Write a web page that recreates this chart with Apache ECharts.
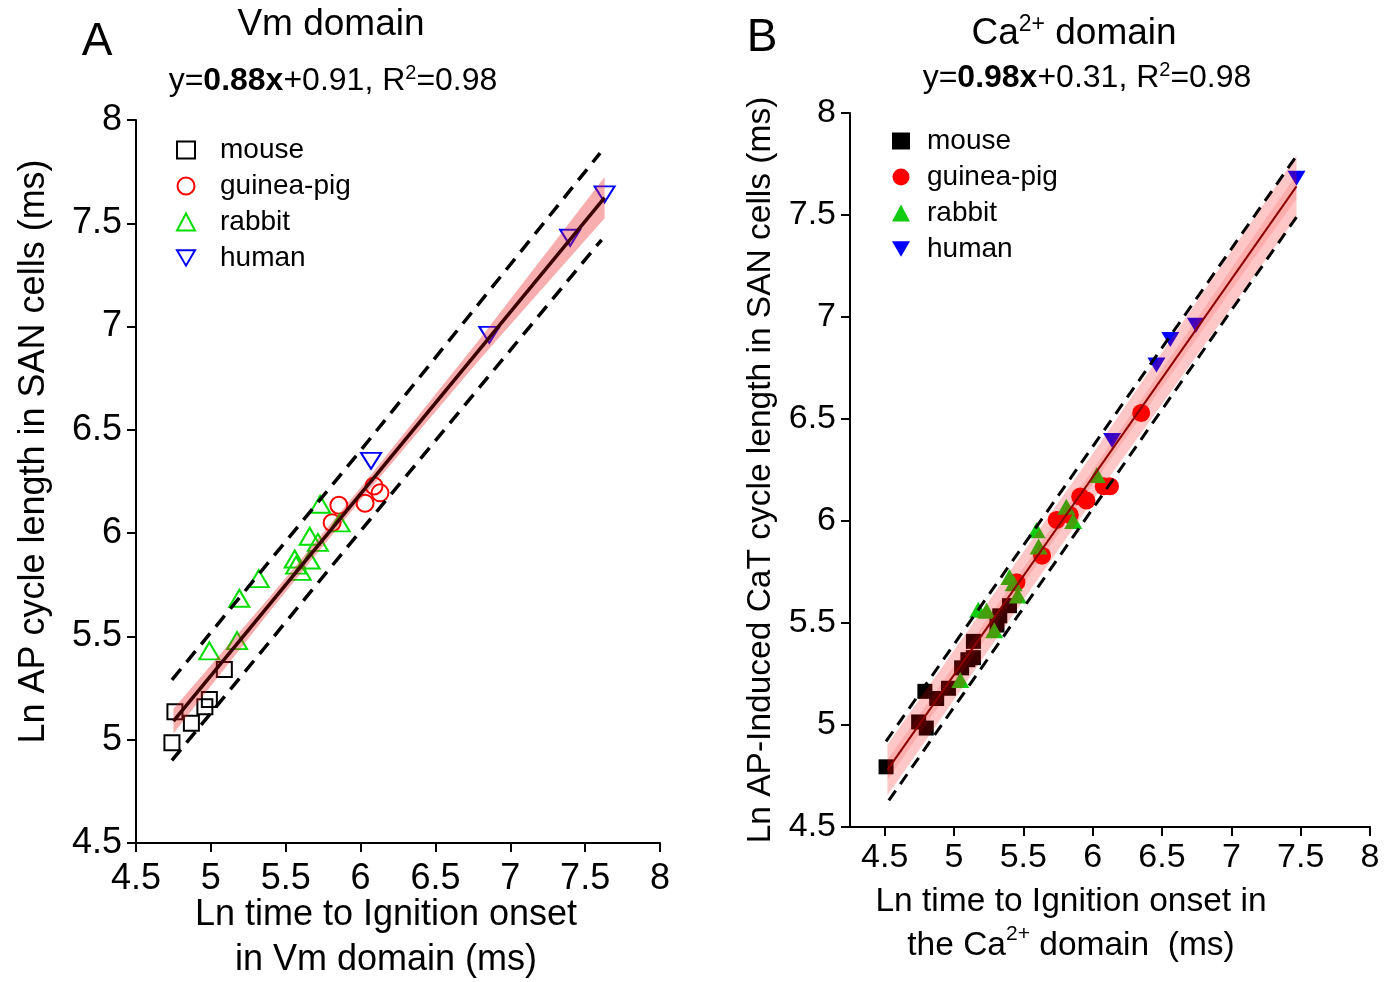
<!DOCTYPE html>
<html><head><meta charset="utf-8">
<script src="https://cdn.jsdelivr.net/npm/echarts@6/dist/echarts.min.js"></script>
<style>html,body{margin:0;padding:0;background:#fff}#c{width:1385px;height:982px}</style>
</head><body><div id="c"></div>
<script>
const FONT = '"Liberation Sans", Arial, Helvetica, sans-serif';

// ---------- tick labels ----------
const ticks = [4.5, 5, 5.5, 6, 6.5, 7, 7.5, 8];
const speciesNames = ['mouse', 'guinea-pig', 'rabbit', 'human'];

// ---------- Panel A (Vm domain) ----------
const aMouse  = [[4.74,4.985],[4.76,5.135],[4.87,5.08],[4.96,5.16],[4.99,5.195],[5.09,5.34]];
const aGuinea = [[5.81,6.05],[5.855,6.135],[6.03,6.145],[6.09,6.228],[6.13,6.195]];
const aRabbit = [[4.99,5.43],[5.175,5.48],[5.19,5.685],[5.32,5.78],[5.56,5.875],[5.57,5.845],
                 [5.60,5.815],[5.66,5.87],[5.66,5.985],[5.715,5.955],[5.73,6.14],[5.86,6.05]];
const aHuman  = [[6.07,6.35],[6.86,6.96],[7.40,7.43],[7.63,7.64]];
const aFit       = [[4.75,5.09],[7.63,7.624]];
const aBandX     = [4.75, 5.4, 6.0, 6.8, 7.63];
const aBandLo    = [5.03, 5.627, 6.16, 6.844, 7.524];
const aBandHi    = [5.15, 5.697, 6.22, 6.944, 7.724];
const aPredUpper = [[4.74,5.29],[6.0,6.40],[7.60,7.84]];
const aPredLower = [[4.74,4.90],[6.0,6.01],[7.61,7.42]];

// ---------- Panel B (Ca2+ domain) ----------
const bMouse  = [[4.51,4.795],[4.745,5.015],[4.80,4.985],[4.79,5.165],[4.875,5.13],[4.96,5.18],
                 [5.055,5.28],[5.10,5.32],[5.14,5.33],[5.14,5.41],[5.31,5.49],[5.33,5.535],[5.40,5.585]];
const bGuinea = [[5.45,5.70],[5.635,5.83],[5.74,6.005],[5.835,6.03],[5.91,6.12],[5.955,6.10],
                 [6.08,6.17],[6.125,6.17],[6.35,6.53]];
const bRabbit = [[5.045,5.22],[5.175,5.565],[5.235,5.56],[5.29,5.465],[5.40,5.725],[5.43,5.695],
                 [5.46,5.635],[5.595,5.955],[5.61,5.875],[5.81,6.07],[5.86,6.0],[6.03,6.225]];
const bHuman  = [[6.14,6.395],[6.46,6.765],[6.56,6.89],[6.745,6.96],[7.47,7.68]];
const bFit       = [[4.52,4.78],[7.47,7.64]];
const bBandX     = [4.52, 6.0, 7.47];
const bOuterLo   = [4.655, 6.10, 7.49];
const bOuterHi   = [4.905, 6.33, 7.79];
const bInnerLo   = [4.73, 6.18, 7.58];
const bInnerHi   = [4.83, 6.25, 7.70];
const bPredUpper = [[4.51,4.92],[7.47,7.79]];
const bPredLower = [[4.53,4.63],[7.47,7.49]];

// ---------- helpers ----------
const DOWN_TRI = 'path://M0,0L20,0L10,17Z';
function scatter(name, g, data, symbol, size, color, filled, rotate) {
  return {
    type: 'scatter', name, xAxisIndex: g, yAxisIndex: g, data, symbol,
    symbolSize: size, symbolRotate: rotate || 0, z: 2,
    itemStyle: filled ? { color: color, opacity: 1 }
                      : { color: 'rgba(0,0,0,0)', borderColor: color, borderWidth: 2, opacity: 1 }
  };
}
function band(g, xs, lo, hi, fill, z) {
  return {
    type: 'custom', xAxisIndex: g, yAxisIndex: g, z, silent: true,
    data: xs.map((x, i) => [x, lo[i], hi[i]]),
    renderItem: function (params, api) {
      if (params.dataIndex !== 0) return null;
      const pts = [];
      for (let i = 0; i < xs.length; i++) pts.push(api.coord([xs[i], hi[i]]));
      for (let i = xs.length - 1; i >= 0; i--) pts.push(api.coord([xs[i], lo[i]]));
      return { type: 'polygon', shape: { points: pts }, style: { fill: fill } };
    }
  };
}
function line(g, data, color, width, dash, z) {
  return {
    type: 'line', xAxisIndex: g, yAxisIndex: g, data, showSymbol: false, symbol: 'none', z, silent: true,
    lineStyle: { color, width, type: dash || 'solid', cap: 'butt' }
  };
}
function axisCommon(fs) {
  return {
    axisLine: { show: true, onZero: false, lineStyle: { color: '#000', width: 2 } },
    axisTick: { show: true, inside: false, length: 9, lineStyle: { color: '#000', width: 2 } },
    axisLabel: { show: true, color: '#000', fontSize: fs, fontFamily: FONT, margin: 10 },
    splitLine: { show: false },
    nameTextStyle: { color: '#000', fontSize: fs, fontFamily: FONT }
  };
}

const chart = echarts.init(document.getElementById('c'), null, { renderer: 'canvas' });

const xA = Object.assign(axisCommon(36), {
  type: 'value', gridIndex: 0, min: 4.5, max: 8, interval: 0.5,
  name: 'Ln time to Ignition onset\nin Vm domain (ms)', nameLocation: 'middle', nameGap: 50,
  nameMoveOverlap: false
});
xA.nameTextStyle = Object.assign({}, xA.nameTextStyle, { lineHeight: 45, padding: [0, 24, 0, 0] });
xA.axisLabel.margin = 18;

const yA = Object.assign(axisCommon(36), {
  type: 'value', gridIndex: 0, min: 4.5, max: 8, interval: 0.5,
  name: 'Ln AP cycle length in SAN cells (ms)', nameLocation: 'middle', nameGap: 84
});
yA.nameTextStyle = Object.assign({}, yA.nameTextStyle, { padding: [0, 0, 0, 60] });
yA.axisLabel.margin = 14;

const xB = Object.assign(axisCommon(34), {
  type: 'value', gridIndex: 1, min: 4.25, max: 8,
  name: 'Ln time to Ignition onset in\nthe Ca{sup|2+} domain  (ms)', nameLocation: 'middle', nameGap: 52
});
xB.axisTick.customValues = ticks;
xB.axisLabel.customValues = ticks;
xB.axisLabel.margin = 14;
xB.nameTextStyle = Object.assign({}, xB.nameTextStyle, {
  fontSize: 33.5, lineHeight: 44, padding: [0, 78, 0, 0],
  rich: { sup: { fontSize: 21, fontFamily: FONT, color: '#000', verticalAlign: 'top', lineHeight: 30 } }
});

const yB = Object.assign(axisCommon(34), {
  type: 'value', gridIndex: 1, min: 4.5, max: 8, interval: 0.5,
  name: 'Ln AP-Induced CaT cycle length in SAN cells (ms)', nameLocation: 'middle', nameGap: 72
});
yB.nameTextStyle.fontSize = 33.5;
yB.axisLabel.margin = 14;

const legendCommon = {
  orient: 'vertical', itemGap: 8, itemWidth: 18, itemHeight: 17, selectedMode: false,
  textStyle: { fontSize: 28, fontFamily: FONT, color: '#000', lineHeight: 28 }
};

const RED = '#ff0000', GREEN = '#00dd00', BLUE = '#0000ff';

const option = {
  animation: false,
  backgroundColor: '#fff',
  grid: [
    { left: 136, top: 120, width: 524, height: 723, outerBoundsMode: 'none' },
    { left: 850, top: 113, width: 520, height: 714, outerBoundsMode: 'none' }
  ],
  xAxis: [xA, xB],
  yAxis: [yA, yB],
  legend: [
    Object.assign({}, legendCommon, {
      data: speciesNames.map(n => n === 'human' ? { name: n, icon: DOWN_TRI } : n), left: 171, top: 131,
      textStyle: Object.assign({}, legendCommon.textStyle, { padding: [0, 0, 0, 20] })
    }),
    Object.assign({}, legendCommon, {
      data: speciesNames.map(n => n === 'human' ? { name: 'B ' + n, icon: DOWN_TRI } : 'B ' + n),
      formatter: n => n.slice(2), left: 887, top: 122,
      textStyle: Object.assign({}, legendCommon.textStyle, { padding: [0, 0, 0, 12] })
    })
  ],
  graphic: [
    { type: 'text', x: 97, y: 42, style: { text: 'A', font: '46px ' + FONT, fill: '#000', align: 'center', verticalAlign: 'middle' } },
    { type: 'text', x: 331, y: 25, style: { text: 'Vm domain', font: '37px ' + FONT, fill: '#000', align: 'center', verticalAlign: 'middle' } },
    { type: 'text', x: 333, y: 81, style: {
        text: '{n|y=}{b|0.88x}{n|+0.91, R}{s|2}{n|=0.98}', align: 'center', verticalAlign: 'middle',
        rich: {
          n: { fontSize: 32, fontFamily: FONT, fill: '#000', lineHeight: 36 },
          b: { fontSize: 32, fontFamily: FONT, fontWeight: 'bold', fill: '#000', lineHeight: 36 },
          s: { fontSize: 20, fontFamily: FONT, fill: '#000', verticalAlign: 'top', lineHeight: 22 }
        } } },
    { type: 'text', x: 762, y: 38, style: { text: 'B', font: '46px ' + FONT, fill: '#000', align: 'center', verticalAlign: 'middle' } },
    { type: 'text', x: 1074, y: 34, style: {
        text: '{n|Ca}{s|2+}{n| domain}', align: 'center', verticalAlign: 'middle',
        rich: {
          n: { fontSize: 37, fontFamily: FONT, fill: '#000', lineHeight: 42 },
          s: { fontSize: 23, fontFamily: FONT, fill: '#000', verticalAlign: 'top', lineHeight: 26 }
        } } },
    { type: 'text', x: 1087, y: 78, style: {
        text: '{n|y=}{b|0.98x}{n|+0.31, R}{s|2}{n|=0.98}', align: 'center', verticalAlign: 'middle',
        rich: {
          n: { fontSize: 32, fontFamily: FONT, fill: '#000', lineHeight: 36 },
          b: { fontSize: 32, fontFamily: FONT, fontWeight: 'bold', fill: '#000', lineHeight: 36 },
          s: { fontSize: 20, fontFamily: FONT, fill: '#000', verticalAlign: 'top', lineHeight: 22 }
        } } }
  ],
  series: [
    // Panel A
    scatter('mouse', 0, aMouse, 'rect', 15, '#000', false),
    scatter('guinea-pig', 0, aGuinea, 'circle', 17, RED, false),
    scatter('rabbit', 0, aRabbit, 'triangle', [20, 17], GREEN, false),
    scatter('human', 0, aHuman, 'triangle', [20, 16], BLUE, false, 180),
    band(0, aBandX, aBandLo, aBandHi, 'rgba(235,30,30,0.36)', 3),
    line(0, aFit, '#3a0000', 3.5, null, 4),
    line(0, aPredUpper, '#000', 3.5, [14, 9], 4),
    line(0, aPredLower, '#000', 3.5, [14, 9], 4),
    // Panel B
    scatter('B mouse', 1, bMouse, 'rect', 15, '#000', true),
    scatter('B guinea-pig', 1, bGuinea, 'circle', 18, RED, true),
    scatter('B rabbit', 1, bRabbit, 'triangle', [18, 16], '#11cc11', true),
    scatter('B human', 1, bHuman, 'triangle', [18, 15], BLUE, true, 180),
    band(1, bBandX, bOuterLo, bOuterHi, 'rgba(255,0,0,0.22)', 3),
    band(1, bBandX, bInnerLo, bInnerHi, 'rgba(255,0,0,0.12)', 3),
    line(1, bFit, '#8b0000', 2, null, 4),
    line(1, bPredUpper, '#000', 3, [12, 8], 4),
    line(1, bPredLower, '#000', 3, [12, 8], 4)
  ]
};
chart.setOption(option);
</script>
</body></html>
